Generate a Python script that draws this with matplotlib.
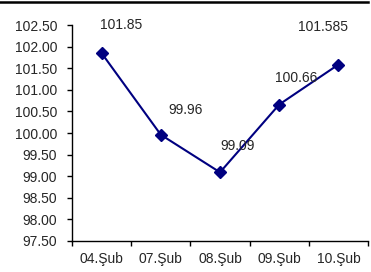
import matplotlib
matplotlib.use("Agg")
import matplotlib.pyplot as plt
from matplotlib.lines import Line2D

plt.rcParams['font.family'] = ['Liberation Sans', 'DejaVu Sans']

# data
dates = ['04.Şub', '07.Şub', '08.Şub', '09.Şub', '10.Şub']
values = [101.85, 99.96, 99.09, 100.66, 101.585]
labels = ['101.85', '99.96', '99.09', '100.66', '101.585']
yticks = [97.5, 98.0, 98.5, 99.0, 99.5, 100.0, 100.5, 101.0, 101.5, 102.0, 102.5]

# label offsets in points (hand placed like the original)
offsets = [(14, 20), (18, 18), (13, 19), (12, 19), (-11, 27)]

fig = plt.figure(figsize=(3.71, 2.72), dpi=100)
ax = fig.add_axes([0.194, 0.114, 0.798, 0.794])

x = list(range(len(dates)))
ax.plot(x, values, color='#000080', lw=1.5, marker='D', ms=6.5,
        markerfacecolor='#000080', markeredgecolor='#000080')

for xi, v, lab, off in zip(x, values, labels, offsets):
    ax.annotate(lab, (xi, v), xytext=off, textcoords='offset points',
                ha='center', va='center', fontsize=10, color='#262626')

ax.set_xlim(-0.5, len(dates) - 0.5)
ax.set_ylim(97.5, 102.5)
ax.set_yticks(yticks)
ax.set_yticklabels([f'{t:.2f}' for t in yticks])
ax.set_xticks(x)
ax.set_xticklabels(dates)
ax.set_xticks([i - 0.5 for i in range(len(dates) + 1)], minor=True)
ax.tick_params(axis='x', which='major', length=0, pad=8)
ax.tick_params(axis='x', which='minor', length=3.6, width=1, direction='out')
ax.tick_params(axis='y', length=3.6, width=1, direction='out', pad=7)
ax.tick_params(labelsize=10, labelcolor='#262626')

for s in ['top', 'right']:
    ax.spines[s].set_visible(False)
for s in ['left', 'bottom']:
    ax.spines[s].set_linewidth(1)

fig.add_artist(Line2D([0.0, 0.992], [0.991, 0.991], color='black', lw=1.8,
                      transform=fig.transFigure))

fig.savefig('out.png', dpi=100, facecolor='white')
